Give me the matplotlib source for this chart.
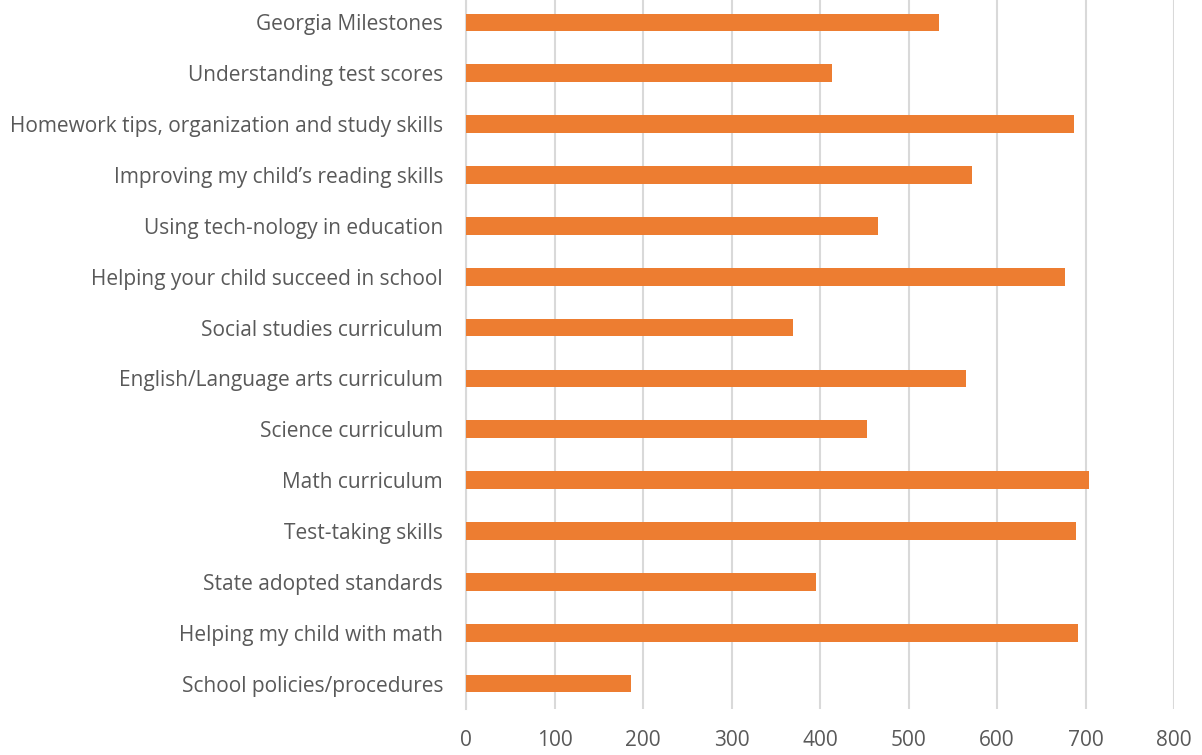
import matplotlib
matplotlib.use("Agg")
from matplotlib import pyplot as plt

# categories top to bottom as in the picture
topics = ["Georgia Milestones",
          "Understanding test scores",
          "Homework tips, organization and study skills",
          "Improving my child\u2019s reading skills",
          "Using tech-nology in education",
          "Helping your child succeed in school",
          "Social studies curriculum",
          "English/Language arts curriculum",
          "Science curriculum",
          "Math curriculum",
          "Test-taking skills",
          "State adopted standards",
          "Helping my child with math",
          "School policies/procedures"]
counts = [535, 413, 687, 572, 465, 677, 370, 565, 453, 704, 689, 396, 692, 187]
xticks = [0, 100, 200, 300, 400, 500, 600, 700, 800]

plt.rcParams['font.family'] = ['Open Sans', 'DejaVu Sans']

fig = plt.figure(figsize=(12.02, 7.55), dpi=100)
ax = fig.add_axes([466/1202, 1-709/755, (1174-466)/1202, 712/755])

pos = list(range(len(topics)))[::-1]
ax.barh(pos, counts, height=0.35, color='#ED7D31', zorder=3)

ax.set_xlim(0, 800)
ax.set_ylim(-0.5, len(topics)-0.5)
ax.set_xticks(xticks)
ax.set_xticklabels([str(t) for t in xticks])
ax.set_yticks(pos)
ax.set_yticklabels(topics)
ax.tick_params(axis='both', length=0, labelsize=15, labelcolor='#595959')
ax.tick_params(axis='y', pad=16.5)
ax.tick_params(axis='x', pad=15)

ax.grid(axis='x', color='#d9d9d9', linewidth=1.5, zorder=0)
for s in ['top', 'right', 'bottom']:
    ax.spines[s].set_visible(False)
ax.spines['left'].set_color('#d9d9d9')
ax.spines['left'].set_linewidth(1.5)

fig.savefig("out.png", dpi=100)
